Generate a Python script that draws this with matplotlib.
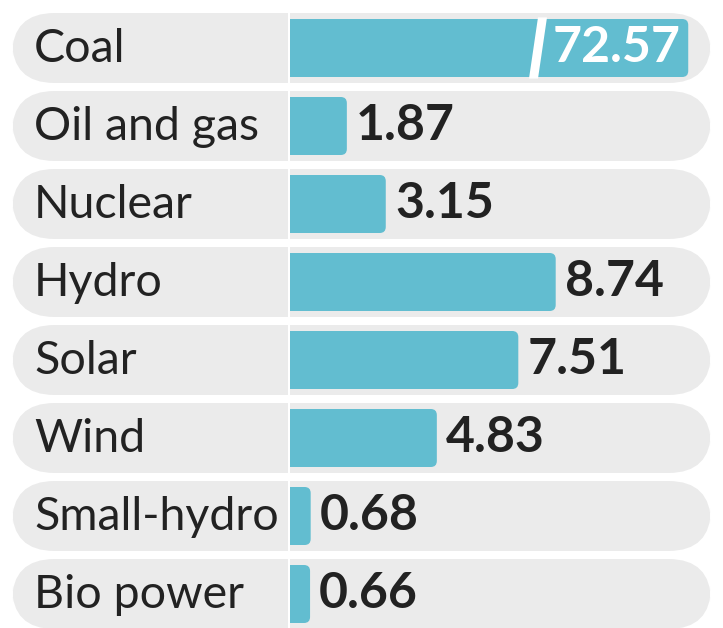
import matplotlib.pyplot as plt
from matplotlib.patches import FancyBboxPatch, Polygon

# data
categories = ['Coal', 'Oil and gas', 'Nuclear', 'Hydro', 'Solar', 'Wind',
              'Small-hydro', 'Bio power']
values = [72.57, 1.87, 3.15, 8.74, 7.51, 4.83, 0.68, 0.66]
labels = ['72.57', '1.87', '3.15', '8.74', '7.51', '4.83', '0.68', '0.66']
cap = 13.1  # bars longer than this are drawn broken

bar_color = '#62bdd0'
row_color = '#ebebeb'
text_color = '#222222'

# pixel scale: x unit = 30.4 px, bars start at px 290; rows 78 px apart
px_x = 30.4
px_y = 78.0
x0 = 290

fig = plt.figure(figsize=(7.23, 6.28), dpi=100)
ax = fig.add_axes([0, 0, 1, 1])
ax.set_xlim(-x0 / px_x, (723 - x0) / px_x)
ax.set_ylim((628 - 48) / px_y, -48 / px_y)
ax.axis('off')

aspect = px_x / px_y
row_h = 70 / px_y
bar_h = 58 / px_y

for i, (cat, v, lab) in enumerate(zip(categories, values, labels)):
    # row background
    left = (12 - x0) / px_x
    right = (711 - x0) / px_x
    ax.add_patch(FancyBboxPatch((left, i - row_h / 2), right - left, row_h,
                                boxstyle='round,pad=0,rounding_size=1.4',
                                mutation_aspect=aspect,
                                fc=row_color, ec='none', zorder=1))
    ax.text(left + 22 / px_x, i + 14 / px_y, cat, fontsize=33.5, family='Lato',
            color=text_color, va='baseline', ha='left', zorder=3)

    w = min(v, cap)
    ax.barh(i, w * 0.5, height=bar_h, left=0, color=bar_color, zorder=2)
    ax.add_patch(FancyBboxPatch((0, i - bar_h / 2), w, bar_h,
                                boxstyle='round,pad=0,rounding_size=0.2',
                                mutation_aspect=aspect,
                                fc=bar_color, ec='none', zorder=2))
    if v > cap:
        # slanted break in the long bar
        top = i - bar_h / 2 - 0.02
        bot = i + bar_h / 2 + 0.02
        gap = Polygon([((538 - x0) / px_x, top), ((547 - x0) / px_x, top),
                       ((538 - x0) / px_x, bot), ((529 - x0) / px_x, bot)],
                      closed=True, fc='white', ec='none', zorder=2.5)
        ax.add_patch(gap)
        ax.text(w - 0.25, i + 14 / px_y, lab, fontsize=36, family='Lato',
                weight='bold', color='white', ha='right', va='baseline', zorder=3)
    else:
        ax.text(w + 0.3, i + 14 / px_y, lab, fontsize=36, family='Lato',
                weight='bold', color=text_color, ha='left', va='baseline', zorder=3)

# thin white divider between labels and bars
ax.axvline(-0.03, color='white', lw=1.5, zorder=1.5)

fig.savefig('out.png', dpi=100, facecolor='white')
